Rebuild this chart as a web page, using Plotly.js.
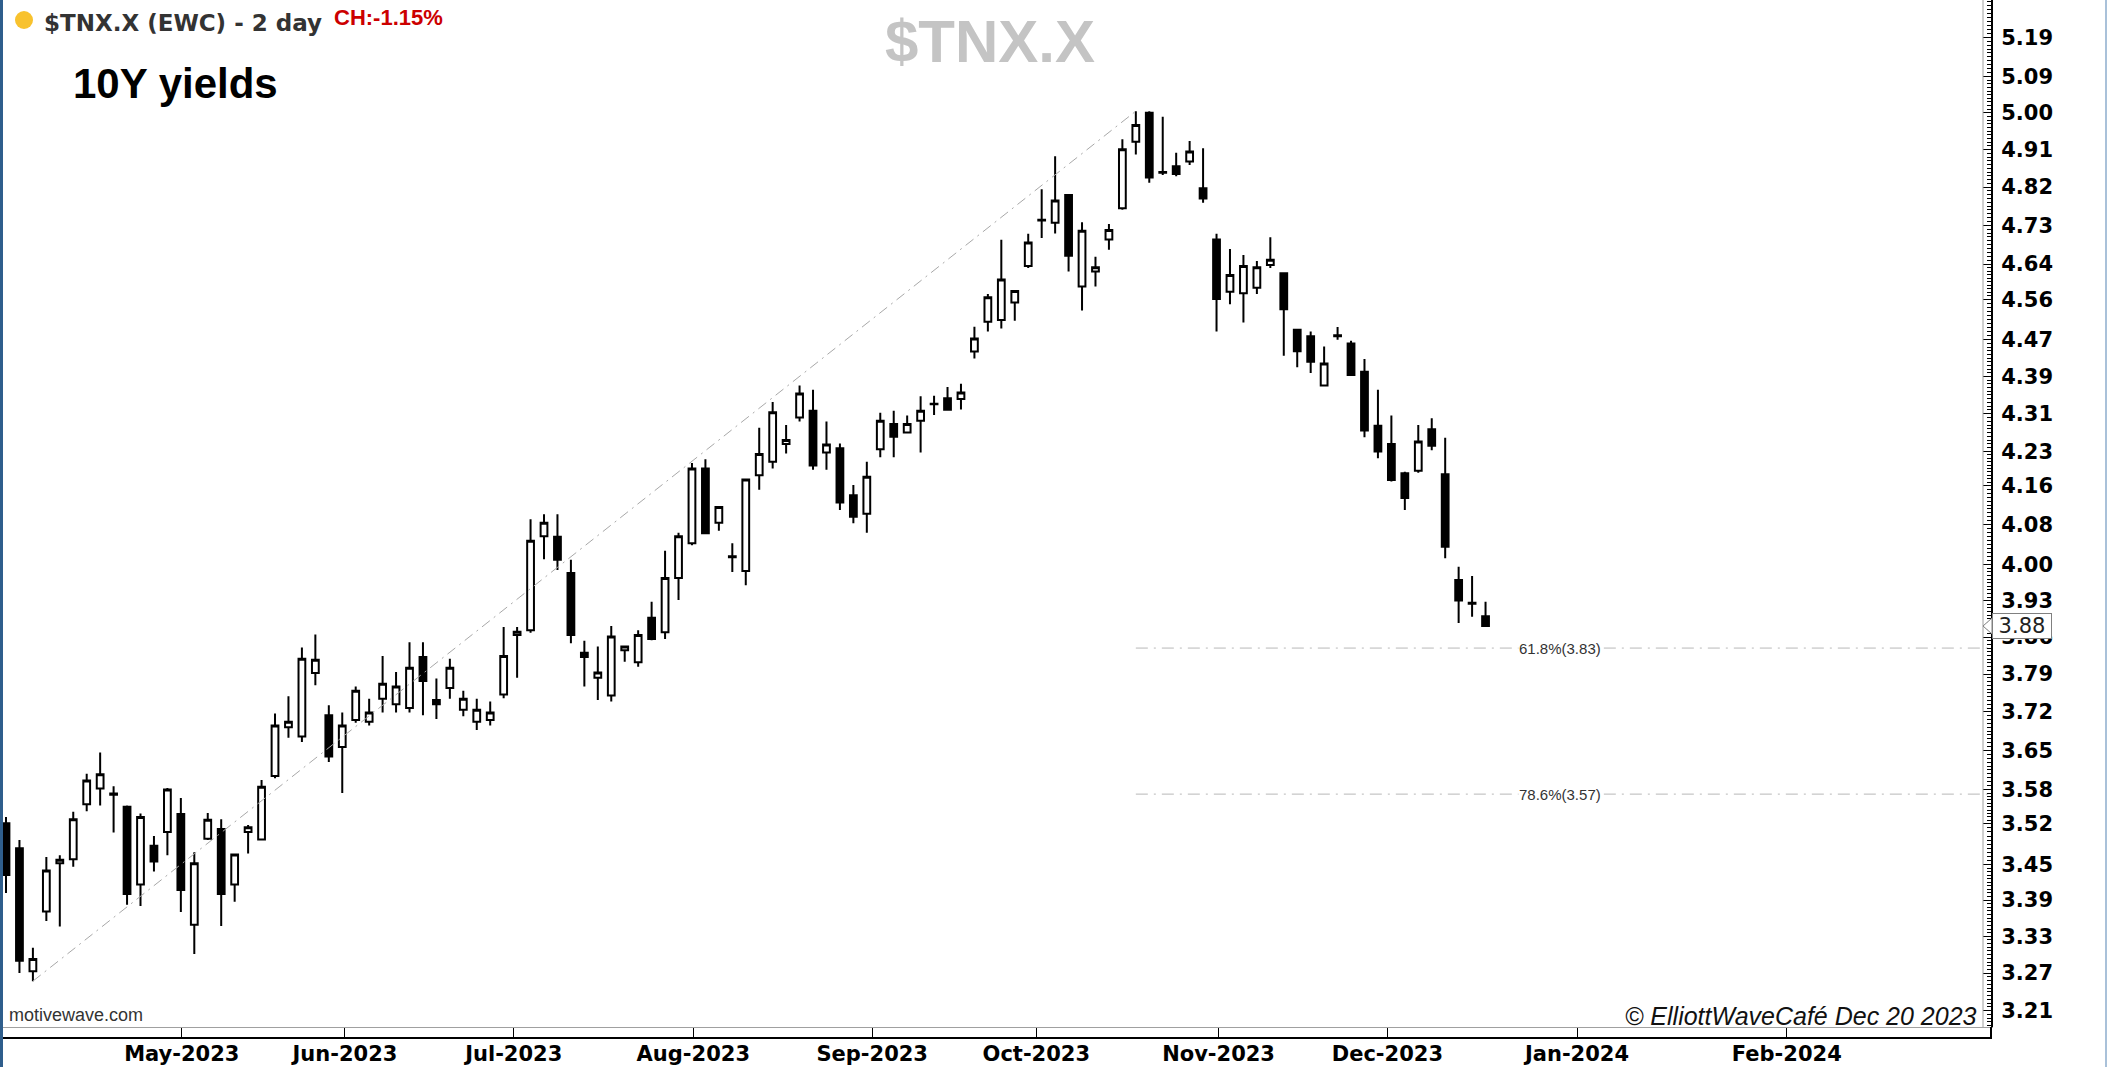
<!DOCTYPE html>
<html><head><meta charset="utf-8">
<script src="https://cdn.plot.ly/plotly-3.0.1.min.js"></script>
<style>
html,body{margin:0;padding:0;background:#fff;overflow:hidden}
#wrap{width:2102px;height:1067px;border-left:3px solid #2f5e8c;border-right:2px solid #a9c1d9;}
#chart{width:2102px;height:1067px}
</style></head><body><div id="wrap"><div id="chart"></div></div>
<script>
// ---- data: 2-day bars of $TNX.X (10Y yield) ----
const opens  = [3.521,3.478,3.273,3.371,3.452,3.459,3.554,3.582,3.573,3.550,
                3.416,3.482,3.506,3.537,3.349,3.494,3.511,3.416,3.506,3.493,
                3.604,3.692,3.675,3.792,3.714,3.656,3.705,3.702,3.744,3.734,
                3.727,3.822,3.742,3.764,3.724,3.702,3.705,3.752,3.864,3.873,
                4.057,4.056,3.984,3.830,3.783,3.750,3.835,3.812,3.897,3.869,
                3.974,4.043,4.195,4.084,4.017,3.988,4.181,4.209,4.246,4.302,
                4.316,4.228,4.237,4.140,4.102,4.235,4.288,4.270,4.295,4.331,
                4.343,4.341,4.444,4.510,4.514,4.553,4.636,4.743,4.736,4.801,
                4.589,4.623,4.697,4.770,4.929,5.000,4.856,4.870,4.881,4.817,
                4.697,4.577,4.574,4.586,4.638,4.619,4.492,4.478,4.370,4.480,
                4.462,4.400,4.284,4.246,4.185,4.190,4.277,4.183,3.970,3.926,
                3.900];
const highs  = [3.532,3.492,3.311,3.463,3.466,3.541,3.608,3.646,3.586,3.552,
                3.538,3.499,3.583,3.565,3.471,3.539,3.528,3.467,3.518,3.597,
                3.717,3.749,3.840,3.865,3.732,3.719,3.767,3.744,3.824,3.794,
                3.850,3.850,3.782,3.819,3.759,3.744,3.739,3.879,3.879,4.091,
                4.101,4.101,4.010,3.853,3.842,3.881,3.842,3.873,3.928,4.028,
                4.064,4.206,4.214,4.116,4.043,4.172,4.280,4.335,4.286,4.370,
                4.361,4.293,4.247,4.161,4.209,4.312,4.316,4.306,4.347,4.348,
                4.367,4.374,4.499,4.572,4.696,4.579,4.710,4.815,4.894,4.801,
                4.737,4.657,4.733,4.935,5.004,5.004,4.990,4.902,4.931,4.913,
                4.710,4.675,4.661,4.647,4.702,4.621,4.494,4.488,4.455,4.498,
                4.468,4.428,4.361,4.306,4.188,4.286,4.300,4.259,3.996,3.978,
                3.928];
const lows   = [3.402,3.270,3.257,3.355,3.346,3.446,3.542,3.552,3.505,3.382,
                3.380,3.438,3.466,3.370,3.301,3.492,3.347,3.387,3.469,3.492,
                3.600,3.673,3.665,3.769,3.629,3.574,3.700,3.695,3.719,3.719,
                3.719,3.714,3.707,3.744,3.712,3.687,3.695,3.745,3.783,3.868,
                4.011,3.990,3.848,3.767,3.742,3.739,3.813,3.804,3.854,3.856,
                3.931,4.039,4.061,4.068,3.986,3.960,4.151,4.195,4.226,4.293,
                4.192,4.192,4.110,4.083,4.064,4.218,4.218,4.269,4.228,4.307,
                4.318,4.319,4.429,4.488,4.495,4.512,4.631,4.700,4.711,4.623,
                4.535,4.589,4.673,4.766,4.898,4.830,4.849,4.846,4.873,4.783,
                4.488,4.549,4.508,4.572,4.631,4.435,4.410,4.397,4.368,4.470,
                4.391,4.260,4.216,4.168,4.110,4.186,4.233,4.013,3.887,3.899,
                3.881];
const closes = [3.432,3.290,3.293,3.440,3.458,3.528,3.596,3.607,3.571,3.400,
                3.532,3.455,3.580,3.407,3.452,3.527,3.400,3.467,3.514,3.585,
                3.695,3.702,3.819,3.817,3.639,3.695,3.759,3.719,3.772,3.767,
                3.802,3.777,3.734,3.802,3.744,3.724,3.719,3.824,3.870,4.048,
                4.084,4.010,3.864,3.822,3.793,3.861,3.842,3.864,3.856,3.974,
                4.057,4.195,4.063,4.116,4.015,4.172,4.225,4.313,4.254,4.353,
                4.201,4.245,4.125,4.096,4.178,4.295,4.261,4.288,4.316,4.330,
                4.318,4.355,4.473,4.565,4.605,4.579,4.690,4.741,4.788,4.659,
                4.717,4.633,4.719,4.911,4.970,4.843,4.854,4.851,4.905,4.793,
                4.561,4.615,4.636,4.633,4.650,4.538,4.445,4.422,4.418,4.478,
                4.393,4.274,4.230,4.171,4.134,4.251,4.242,4.036,3.930,3.924,
                3.881];

const monthLabels = ['May-2023','Jun-2023','Jul-2023','Aug-2023','Sep-2023','Oct-2023',
                     'Nov-2023','Dec-2023','Jan-2024','Feb-2024'];
const monthPos    = [13.07,25.2,37.75,51.1,64.4,76.6,90.15,102.7,116.8,132.4]; // bar-index positions
const yTickLabels = ['5.19','5.09','5.00','4.91','4.82','4.73','4.64','4.56','4.47','4.39',
                     '4.31','4.23','4.16','4.08','4.00','3.93','3.86','3.79','3.72','3.65',
                     '3.58','3.52','3.45','3.39','3.33','3.27','3.21'];
const fibLabels = ['61.8%(3.83)','78.6%(3.57)'];
const fibValues = [3.839, 3.572];
const trendFrom = 2, trendTo = 84;     // bar indexes of the trend line anchors
const fibStart = 84;
const lastLabel = '3.88';

// ---- geometry ----
const W = 1988, H = 1027;              // plot area in px (starts at page x=3,y=0)
const X0 = -0.223, X1 = 147.58;
const Y0 = 0.50299, Y1 = 0.72314;
const px = p => (p - 3) / W;
const py = p => 1 - p / H;
const pyv = v => (Math.log10(v) - Y0) / (Y1 - Y0);

const idx = closes.map((_, i) => i);
const yTickVals = yTickLabels.map(Number);

// minor ticks: 10 subdivisions (log) between labelled ticks
const minors = [];
const asc = yTickVals.slice().reverse();
const ext = [asc[0] / (asc[1] / asc[0])].concat(asc, [asc[asc.length-1] * (asc[asc.length-1] / asc[asc.length-2])]);
for (let k = 0; k < ext.length - 1; k++) {
  const a = Math.log(ext[k]), b = Math.log(ext[k+1]);
  for (let j = 1; j < 10; j++) minors.push(Math.exp(a + (b - a) * j / 10));
}

const traces = [
  {
    type: 'candlestick', x: idx, open: opens, high: highs, low: lows, close: closes,
    increasing: {line: {color: '#000', width: 2}, fillcolor: '#fff'},
    decreasing: {line: {color: '#000', width: 2}, fillcolor: '#000'},
    whiskerwidth: 0, hoverinfo: 'none', showlegend: false
  },
  {
    type: 'scatter', mode: 'lines', x: [trendFrom, trendTo], y: [lows[trendFrom], highs[trendTo]],
    line: {color: '#a8a8a8', width: 1, dash: '10px,5px,2px,5px'}, hoverinfo: 'skip', showlegend: false
  }
];
fibValues.forEach(v => traces.push({
  type: 'scatter', mode: 'lines', x: [fibStart, X1], y: [v, v],
  line: {color: '#b8b8b8', width: 1, dash: '12px,6px,2px,6px'}, hoverinfo: 'skip', showlegend: false
}));

const lastClose = closes[closes.length - 1];
const tipY = pyv(lastClose);
const hp = 8 / H;

const annotations = [
  {xref:'paper', yref:'paper', x:px(42), y:py(23), xanchor:'left', yanchor:'middle', showarrow:false,
   text:'$TNX.X (EWC) - 2 day', font:{family:'DejaVu Sans', size:23, weight:'bold', color:'#333'}},
  {xref:'paper', yref:'paper', x:px(332), y:py(17), xanchor:'left', yanchor:'middle', showarrow:false,
   text:'CH:-1.15%', font:{family:'Liberation Sans', size:22, weight:'bold', color:'#cc0000'}},
  {xref:'paper', yref:'paper', x:px(71), y:py(83), xanchor:'left', yanchor:'middle', showarrow:false,
   text:'10Y yields', font:{family:'Liberation Sans', size:42, weight:'bold', color:'#000'}},
  {xref:'paper', yref:'paper', x:px(7), y:py(1015), xanchor:'left', yanchor:'middle', showarrow:false,
   text:'motivewave.com', font:{family:'Liberation Sans Narrow, Liberation Sans', size:18, color:'#333'}},
  {xref:'paper', yref:'paper', x:px(1979), y:py(1016), xanchor:'right', yanchor:'middle', showarrow:false,
   text:'© ElliottWaveCafé Dec 20 2023', font:{family:'Liberation Sans', size:25, style:'italic', color:'#111'}},
  {xref:'paper', yref:'y', x:1, xshift:1, y:Math.log10(lastClose), xanchor:'left', yanchor:'middle', showarrow:false,
   text:lastLabel, width:56, height:22, borderpad:1, bgcolor:'#fff', bordercolor:'#808080', borderwidth:1,
   font:{family:'DejaVu Sans', size:21, color:'#222'}}
];
fibValues.forEach((v, k) => annotations.push({
  xref:'x', yref:'y', x:115.5, y:Math.log10(v), showarrow:false, text:fibLabels[k], bgcolor:'#fff', borderpad:0,
  font:{family:'Liberation Sans', size:15, color:'#333'}
}));

const shapes = [
  {type:'line', xref:'paper', yref:'paper', x0:0, x1:1, y0:py(1038), y1:py(1038), line:{color:'#000', width:2}},
  {type:'line', xref:'paper', yref:'paper', x0:1, x1:1, y0:py(1039), y1:0, line:{color:'#000', width:2}},
  {type:'line', xref:'paper', yref:'paper', x0:px(1983), x1:px(1983), y0:0, y1:1, line:{color:'#a0a0a0', width:1}},
  {type:'circle', xref:'paper', yref:'paper', xsizemode:'pixel', ysizemode:'pixel',
   xanchor:px(24), yanchor:py(20), x0:-9, x1:9, y0:-9, y1:9, fillcolor:'#f8c22e', line:{width:0}},
  {type:'path', xref:'paper', yref:'paper', layer:'above',
   path:`M ${px(1983)},${tipY} L ${px(1992)},${tipY+hp} L ${px(1992)},${tipY-hp} Z`,
   fillcolor:'#fff', line:{color:'#808080', width:1}}
];

const layout = {
  width: 2102, height: 1067,
  margin: {l: 0, r: 114, t: 0, b: 40, pad: 0},
  paper_bgcolor: '#fff', plot_bgcolor: '#fff',
  showlegend: false, hovermode: false, boxgap: 0.28,
  title: {text: '$TNX.X', xref:'container', yref:'container', x: 987/2102, y: 1 - 41/1067,
          xanchor:'center', yanchor:'middle',
          font: {family:'Liberation Sans', size: 60, weight:'bold', color:'#c4c4c4'}},
  xaxis: {
    range: [X0, X1], tickmode: 'array', tickvals: monthPos, ticktext: monthLabels,
    ticks: 'outside', ticklen: 11, tickwidth: 1, tickcolor: '#000',
    showline: true, linecolor: '#a0a0a0', linewidth: 1, showgrid: false, zeroline: false,
    rangeslider: {visible: false}, fixedrange: true, ticklabelstandoff: -3,
    tickfont: {family: 'DejaVu Sans', size: 21, weight: 'bold', color: '#000'}
  },
  yaxis: {
    type: 'log', side: 'right', range: [Y0, Y1], tickmode: 'array', tickvals: yTickVals, ticktext: yTickLabels,
    ticks: 'inside', ticklen: 8, tickwidth: 1, tickcolor: '#000',
    showline: true, linecolor: '#000', linewidth: 2, showgrid: false, zeroline: false, fixedrange: true,
    ticklabelstandoff: 4,
    minor: {tickmode: 'array', tickvals: minors, ticks: 'inside', ticklen: 4, tickwidth: 1, tickcolor: '#000', showgrid: false},
    tickfont: {family: 'DejaVu Sans', size: 21, weight: 'bold', color: '#000'}
  },
  annotations, shapes
};

Plotly.newPlot('chart', traces, layout, {displayModeBar: false, staticPlot: true});
</script></body></html>
